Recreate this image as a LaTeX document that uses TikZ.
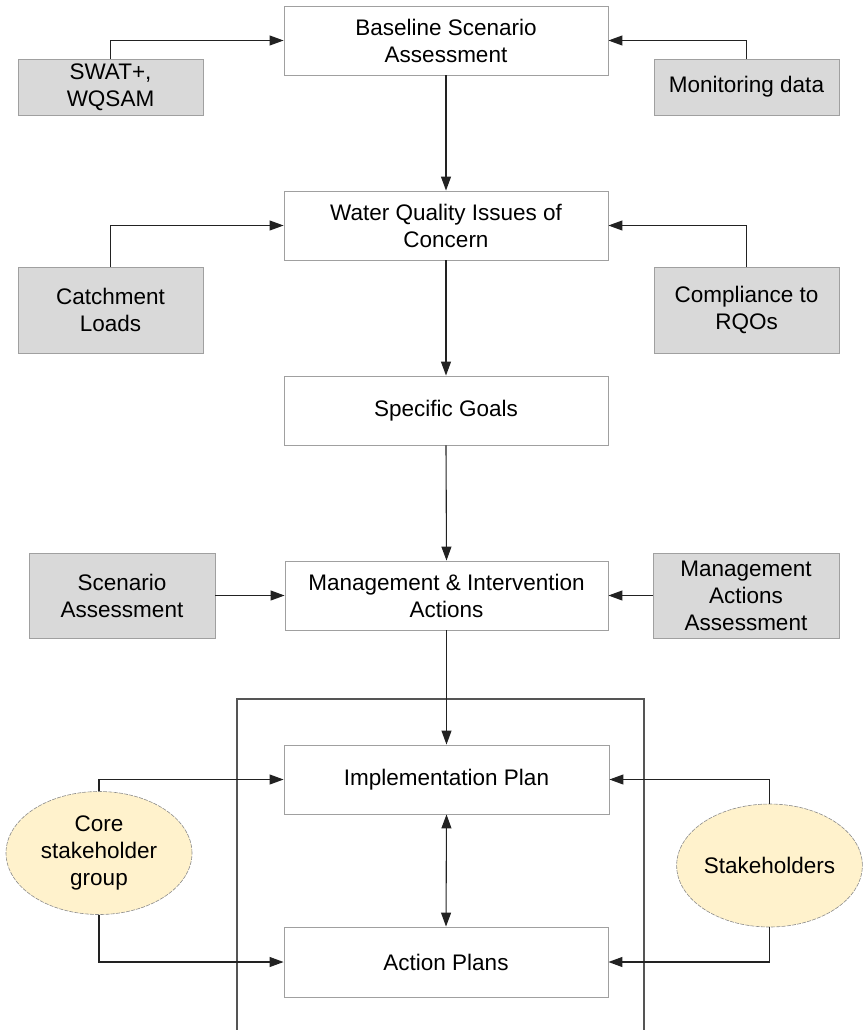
\documentclass[tikz,border=0pt]{standalone}
\usepackage{fontspec}
\setmainfont{Liberation Sans}
\usetikzlibrary{arrows.meta,shapes.geometric}
\definecolor{boxline}{HTML}{A0A0A0}
\definecolor{greyfill}{HTML}{D9D9D9}
\definecolor{ellfill}{HTML}{FFF2CC}
\definecolor{frameline}{HTML}{555555}
\definecolor{arrline}{HTML}{222222}
\tikzset{
  txt/.style={font=\fontsize{22.5}{27}\selectfont, align=center, text=black},
  mainbox/.style={txt, draw=boxline, line width=0.9pt, fill=white, minimum width=324pt, minimum height=69pt, inner sep=0pt},
  sidebox/.style={txt, draw=boxline, line width=0.9pt, fill=greyfill, minimum width=185pt, inner sep=0pt},
  ell/.style={txt, ellipse, draw=gray!90, dash pattern=on 4pt off 1.2pt, line width=0.6pt, fill=ellfill, minimum width=186pt, minimum height=123pt, inner sep=0pt},
  arr/.style={draw=arrline, line width=1.1pt, -{Triangle[length=14pt,width=10pt]}},
  darr/.style={draw=arrline, line width=1.1pt, {Triangle[length=14pt,width=10pt]}-{Triangle[length=14pt,width=10pt]}},
}
\begin{document}
\begin{tikzpicture}[x=1pt,y=-1pt]
\useasboundingbox (0,0) rectangle (864,1030);
% frame (open at bottom)
\draw[frameline, line width=1.5pt] (237,1030) -- (237,699) -- (644,699) -- (644,1030);
% main column
\node[mainbox] (base) at (446,40.5) {Baseline Scenario\\Assessment};
\node[mainbox] (wq) at (446,225.5) {Water Quality Issues of\\Concern};
\node[mainbox] (goals) at (446,410.5) {Specific Goals};
\node[mainbox, minimum width=323pt] (mgmt) at (446.5,595.5) {Management \& Intervention\\Actions};
\node[mainbox, minimum width=325pt] (impl) at (446.5,779.5) {Implementation Plan};
\node[mainbox, minimum height=70pt] (act) at (446,962) {Action Plans};
% side boxes
\node[sidebox, minimum height=56pt] (swat) at (110.5,87) {SWAT+,\\WQSAM};
\node[sidebox, minimum height=56pt] (mon) at (746.5,87) {Monitoring data};
\node[sidebox, minimum height=86pt] (catch) at (110.5,310) {Catchment\\Loads};
\node[sidebox, minimum height=86pt] (comp) at (746.5,310) {Compliance to\\RQOs};
\node[sidebox, minimum height=85pt, minimum width=186pt] (scen) at (122,595.5) {Scenario\\Assessment};
\node[sidebox, minimum height=85pt, minimum width=186pt] (maa) at (746,595.5) {Management\\Actions\\Assessment};
% ellipses
\node[ell] (core) at (99,853) {Core\\stakeholder\\group};
\node[ell, minimum width=185pt] (stk) at (769.5,865.5) {Stakeholders};
% connectors
\draw[arr] (swat.north) |- (base.west);
\draw[arr] (mon.north) |- (base.east);
\draw[arr] (base.south) -- (wq.north);
\draw[arr] (catch.north) |- (wq.west);
\draw[arr] (comp.north) |- (wq.east);
\draw[arr] (wq.south) -- (goals.north);
\draw[arr] (goals.south) -- (mgmt.north);
\draw[arr] (scen.east) -- (mgmt.west);
\draw[arr] (maa.west) -- (mgmt.east);
\draw[arr] (mgmt.south) -- (impl.north);
\draw[darr] (impl.south) -- (act.north);
\draw[arr] (core.north) |- (impl.west);
\draw[arr] (core.south) |- (act.west);
\draw[arr] (stk.north) |- (impl.east);
\draw[arr] (stk.south) |- (act.east);
\end{tikzpicture}
\end{document}
